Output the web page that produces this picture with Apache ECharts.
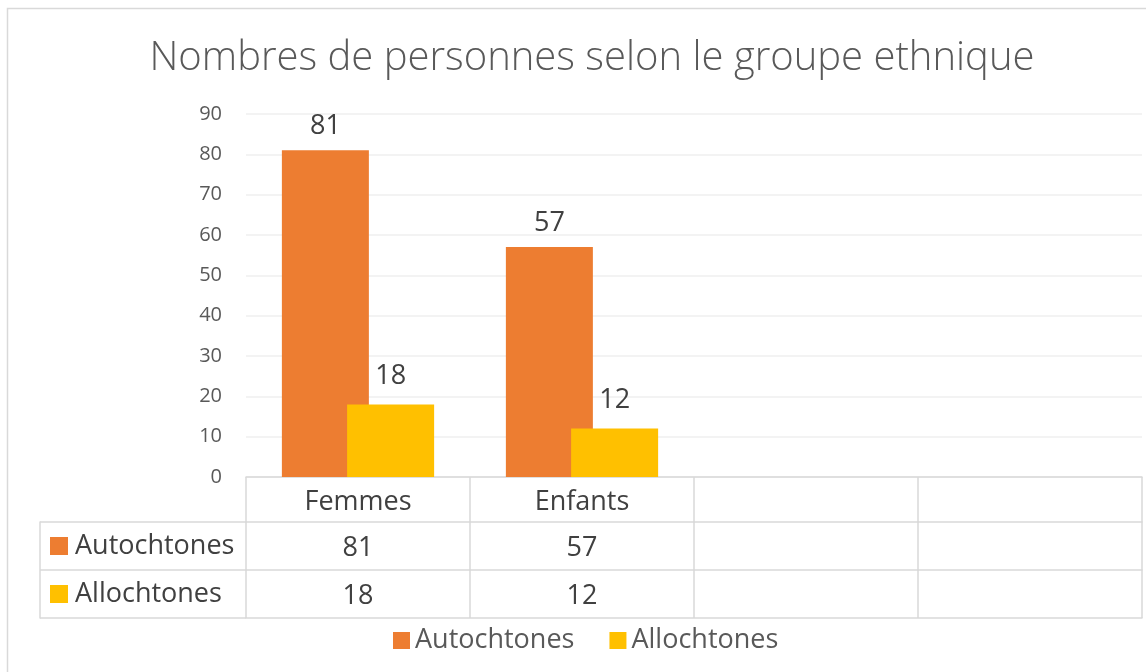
<!DOCTYPE html>
<html>
<head>
<meta charset="utf-8">
<script src="https://cdn.jsdelivr.net/npm/echarts@6/dist/echarts.min.js"></script>
<style>
  html, body { margin: 0; padding: 0; background: #fff; }
  #chart { width: 1146px; height: 672px; }
</style>
</head>
<body>
<div id="chart"></div>
<script>
// données du graphique
var categories = ["Femmes", "Enfants", "", ""];
var seriesNames = ["Autochtones", "Allochtones"];
var autochtones = [81, 57];
var allochtones = [18, 12];
var yTicks = [0, 10, 20, 30, 40, 50, 60, 70, 80, 90];

var colors = ["#ED7D31", "#FFC000"];
var lineColor = "#d9d9d9";
var fontFamily = "'Open Sans', 'Noto Sans', sans-serif";
var bigFont = 27;

// valeurs du tableau de données (cellules vides pour les catégories sans données)
function tableRow(values) {
  return categories.map(function (c, i) {
    return values[i] === undefined ? "" : String(values[i]);
  });
}

var tableAxis = function (offset, data, showLabel) {
  return {
    type: "category",
    gridIndex: 0,
    position: "bottom",
    offset: offset,
    data: data,
    axisLine: { show: true, lineStyle: { color: lineColor, width: 1.5 } },
    axisTick: { show: false },
    axisLabel: {
      show: showLabel,
      interval: 0,
      margin: 26,
      verticalAlign: "middle",
      color: "#404040",
      fontSize: bigFont,
      fontFamily: fontFamily,
    },
  };
};

var barLabel = function (dist) {
  return {
    show: true,
    position: "top",
    distance: dist,
    color: "#404040",
    fontSize: bigFont,
    fontFamily: fontFamily,
  };
};

var chart = echarts.init(document.getElementById("chart"));

var option = {
  animation: false,
  textStyle: { fontFamily: fontFamily },
  title: {
    text: "Nombres de personnes selon le groupe ethnique",
    left: 587,
    textAlign: "center",
    top: 34,
    textStyle: {
      color: "#595959",
      fontSize: 40,
      fontWeight: 300,
      fontFamily: fontFamily,
    },
  },
  legend: {
    data: seriesNames,
    left: 388,
    top: 622,
    icon: "rect",
    itemWidth: 17,
    itemHeight: 17,
    itemGap: 35,
    textStyle: {
      color: "#595959",
      fontSize: bigFont,
      fontFamily: fontFamily,
    },
  },
  graphic: [
    {
      type: "rect",
      shape: { x: 7.5, y: 8.5, width: 1200, height: 700 },
      style: { fill: "none", stroke: lineColor, lineWidth: 1.5 },
      silent: true,
      z: -10,
    },
  ],
  grid: [
    { left: 246, right: 4, top: 114, bottom: 195 },
    { left: 40, top: 522, width: 206, height: 96 },
  ],
  xAxis: [
    {
      type: "category",
      gridIndex: 0,
      data: categories,
      axisLine: { show: true, lineStyle: { color: lineColor, width: 1.5 } },
      axisTick: {
        show: true,
        interval: 0,
        length: 141,
        lineStyle: { color: lineColor, width: 1.5 },
      },
      axisLabel: {
        interval: 0,
        margin: 25,
        verticalAlign: "middle",
        color: "#404040",
        fontSize: bigFont,
        fontFamily: fontFamily,
      },
    },
    tableAxis(45, tableRow(autochtones), true),
    tableAxis(93, tableRow(allochtones), true),
    tableAxis(141, tableRow([]), false),
    { type: "value", gridIndex: 1, show: false },
  ],
  yAxis: [
    {
      type: "value",
      gridIndex: 0,
      min: yTicks[0],
      max: yTicks[yTicks.length - 1],
      interval: 10,
      axisLine: { show: false },
      axisTick: { show: false },
      splitLine: { lineStyle: { color: "#efefef", width: 1.5 } },
      axisLabel: {
        margin: 24,
        color: "#595959",
        fontSize: 20,
        fontFamily: fontFamily,
      },
    },
    {
      // colonne des noms de séries du tableau
      type: "category",
      gridIndex: 1,
      inverse: true,
      data: seriesNames,
      axisLine: { show: true, lineStyle: { color: lineColor, width: 1.5 } },
      axisTick: {
        show: true,
        inside: true,
        length: 206,
        lineStyle: { color: lineColor, width: 1.5 },
      },
      axisLabel: {
        inside: true,
        margin: 10,
        formatter: function (value, idx) {
          return "{k" + idx + "|}{t|" + value + "}";
        },
        rich: {
          k0: { width: 18, height: 18, backgroundColor: colors[0] },
          k1: { width: 18, height: 18, backgroundColor: colors[1] },
          t: {
            color: "#404040",
            fontSize: bigFont,
            fontFamily: fontFamily,
            padding: [0, 0, 0, 7],
          },
        },
      },
    },
  ],
  series: [
    {
      name: seriesNames[0],
      type: "bar",
      xAxisIndex: 0,
      yAxisIndex: 0,
      data: autochtones,
      barWidth: 87,
      barGap: "-25%",
      itemStyle: { color: colors[0] },
      label: barLabel(10),
    },
    {
      name: seriesNames[1],
      type: "bar",
      xAxisIndex: 0,
      yAxisIndex: 0,
      data: allochtones,
      barWidth: 87,
      barGap: "-25%",
      itemStyle: { color: colors[1] },
      label: barLabel(15),
    },
  ],
};

chart.setOption(option);
window.onresize = function () {
  chart.resize();
};
</script>
</body>
</html>
